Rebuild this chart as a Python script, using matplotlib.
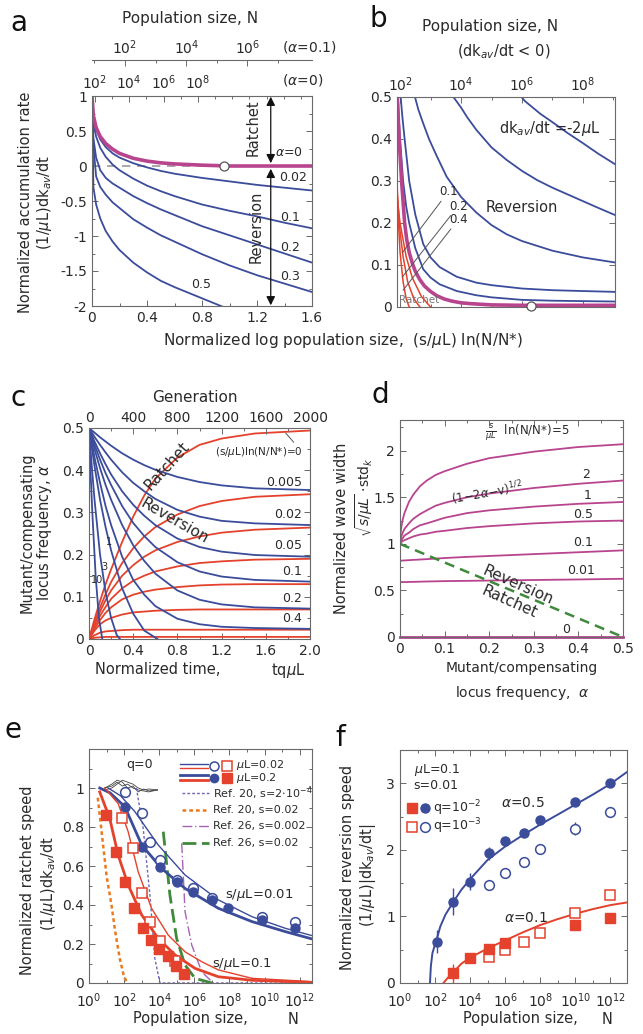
import numpy as np
import matplotlib
matplotlib.use('Agg')
import matplotlib.pyplot as plt
from matplotlib.ticker import MultipleLocator, FixedLocator

plt.rcParams['font.family'] = ['DejaVu Sans']
plt.rcParams['mathtext.fontset'] = 'dejavusans'

BLUE = '#3b4c9b'; RED = '#e4422c'; MAG = '#b8448e'; TXT = '#2a2a2a'; SPN = '#6a6a6a'
ORANGE = '#ea7a1e'; PURP = '#7064b4'; PURP2 = '#a862b8'; GREEN = '#3f8a3a'

# ---------------- panel a data ----------------
a_x = [0, 0.01, 0.03, 0.06, 0.1, 0.15, 0.2, 0.3, 0.4, 0.5, 0.6, 0.8, 1.0, 1.2, 1.4, 1.6]
a_rate_alpha0 = [1.0, 0.72, 0.55, 0.42, 0.32, 0.24, 0.18, 0.11, 0.07, 0.045, 0.03, 0.012, 0.0, 0.0, 0.0, 0.0]
a_rate_002 = [1.0, 0.70, 0.52, 0.38, 0.27, 0.18, 0.12, 0.04, -0.02, -0.07, -0.11, -0.17, -0.22, -0.27, -0.31, -0.35]
a_rate_01 = [1.0, 0.62, 0.42, 0.26, 0.13, 0.02, -0.06, -0.18, -0.28, -0.36, -0.43, -0.55, -0.64, -0.72, -0.81, -0.89]
a_rate_02 = [1.0, 0.40, 0.12, -0.06, -0.17, -0.25, -0.31, -0.43, -0.53, -0.62, -0.70, -0.86, -0.99, -1.12, -1.25, -1.38]
a_rate_03 = [1.0, 0.30, -0.15, -0.30, -0.41, -0.52, -0.60, -0.76, -0.88, -0.99, -1.08, -1.26, -1.42, -1.56, -1.68, -1.80]
a_rate_05 = [1.0, -0.30, -0.55, -0.75, -0.93, -1.08, -1.20, -1.38, -1.52, -1.64, -1.73, -1.89, -2.05, -2.2, -2.35, -2.5]
a_zero_point = (0.96, 0.0)
a_top_alpha0_pos = [0.02, 0.27, 0.52, 0.77]
a_top_alpha01_pos = [0.24, 0.685, 1.13]
a_top_labels_0 = ['$10^2$', '$10^4$', '$10^6$', '$10^8$']
a_top_labels_01 = ['$10^2$', '$10^4$', '$10^6$']

# ---------------- panel b data (x = log10 N, y = alpha) ----------------
b_blue1_x = [5.98, 6.1, 6.3, 6.6, 7.0, 7.5, 8.0, 8.5, 9.05]
b_blue1_y = [0.5, 0.49, 0.478, 0.46, 0.44, 0.414, 0.39, 0.365, 0.34]
b_blue2_x = [3.75, 3.85, 4.0, 4.2, 4.5, 5.0, 5.5, 6.0, 6.5, 7.0, 7.5, 8.0, 8.5, 9.05]
b_blue2_y = [0.5, 0.49, 0.475, 0.452, 0.422, 0.38, 0.35, 0.324, 0.302, 0.284, 0.268, 0.252, 0.236, 0.219]
b_blue3_x = [2.49, 2.6, 2.76, 2.95, 3.2, 3.53, 4.0, 4.5, 5.0, 5.5, 6.0, 7.0, 8.0, 9.05]
b_blue3_y = [0.5, 0.47, 0.437, 0.4, 0.36, 0.31, 0.262, 0.225, 0.195, 0.173, 0.157, 0.134, 0.118, 0.106]
b_blue4_x = [2.02, 2.08, 2.15, 2.3, 2.5, 2.76, 3.0, 3.3, 3.86, 4.5, 5.0, 6.0, 7.0, 8.0, 9.05]
b_blue4_y = [0.5, 0.45, 0.4, 0.3, 0.22, 0.15, 0.118, 0.095, 0.072, 0.058, 0.052, 0.044, 0.04, 0.038, 0.036]
b_blue5_x = [1.93, 1.96, 2.0, 2.1, 2.2, 2.3, 2.5, 2.76, 3.0, 3.3, 3.86, 4.5, 5.0, 6.0, 7.0, 8.0, 9.05]
b_blue5_y = [0.5, 0.45, 0.4, 0.3, 0.24, 0.2, 0.14, 0.09, 0.07, 0.054, 0.038, 0.028, 0.023, 0.017, 0.015, 0.014, 0.013]
b_zero_x = [1.91, 1.94, 1.97, 2.01, 2.05, 2.1, 2.15, 2.22, 2.3, 2.4, 2.5, 2.65, 2.8, 3.0, 3.2, 3.45, 3.7, 4.0, 4.3, 5.0, 6.0, 9.05]
b_zero_y = [0.5, 0.45, 0.4, 0.35, 0.3, 0.25, 0.2, 0.16, 0.13, 0.105, 0.085, 0.065, 0.05, 0.037, 0.027, 0.019, 0.014, 0.01, 0.008, 0.005, 0.004, 0.004]
b_red1_x = [1.9, 1.95, 2.0, 2.1, 2.2, 2.3]
b_red1_y = [0.3, 0.2, 0.13, 0.06, 0.02, 0.0]
b_red2_x = [1.9, 2.0, 2.1, 2.25, 2.45, 2.65]
b_red2_y = [0.28, 0.18, 0.12, 0.06, 0.02, 0.0]
b_red3_x = [1.9, 2.0, 2.2, 2.4, 2.7, 3.0]
b_red3_y = [0.26, 0.2, 0.12, 0.07, 0.025, 0.0]
b_zero_point = (6.3, 0.003)

# ---------------- panel c data ----------------
c_t = [0, 0.05, 0.1, 0.15, 0.2, 0.3, 0.4, 0.5, 0.6, 0.8, 1.0, 1.2, 1.5, 2.0]
c_labels = ['0.005', '0.02', '0.05', '0.1', '0.2', '0.4']
c_blue = [
    [0.5, 0.489, 0.478, 0.468, 0.458, 0.44, 0.425, 0.412, 0.401, 0.384, 0.372, 0.364, 0.357, 0.353],
    [0.5, 0.479, 0.46, 0.442, 0.425, 0.395, 0.37, 0.35, 0.332, 0.306, 0.29, 0.28, 0.274, 0.27],
    [0.5, 0.468, 0.44, 0.414, 0.39, 0.35, 0.318, 0.292, 0.27, 0.238, 0.218, 0.207, 0.199, 0.195],
    [0.5, 0.46, 0.425, 0.393, 0.365, 0.315, 0.275, 0.244, 0.218, 0.182, 0.16, 0.148, 0.14, 0.136],
    [0.5, 0.45, 0.405, 0.365, 0.33, 0.27, 0.222, 0.185, 0.155, 0.115, 0.093, 0.082, 0.075, 0.072],
    [0.5, 0.43, 0.37, 0.315, 0.27, 0.195, 0.14, 0.105, 0.078, 0.048, 0.035, 0.029, 0.026, 0.024],
]
c_blue1_t = [0, 0.05, 0.1, 0.15, 0.2, 0.3, 0.4, 0.5, 0.62]
c_blue1_y = [0.5, 0.41, 0.33, 0.265, 0.21, 0.12, 0.06, 0.02, 0.0]
c_blue3_t = [0, 0.025, 0.05, 0.1, 0.15, 0.2, 0.25, 0.28]
c_blue3_y = [0.5, 0.41, 0.33, 0.2, 0.11, 0.05, 0.01, 0.0]
c_blue10_t = [0, 0.015, 0.03, 0.06, 0.09, 0.12]
c_blue10_y = [0.5, 0.39, 0.3, 0.15, 0.05, 0.0]
c_red = [
    [0, 0.047, 0.09, 0.13, 0.165, 0.23, 0.29, 0.34, 0.38, 0.43, 0.46, 0.475, 0.487, 0.494],
    [0, 0.04, 0.075, 0.106, 0.135, 0.18, 0.215, 0.243, 0.265, 0.295, 0.315, 0.327, 0.337, 0.343],
    [0, 0.035, 0.065, 0.092, 0.115, 0.15, 0.175, 0.195, 0.21, 0.23, 0.243, 0.252, 0.259, 0.264],
    [0, 0.03, 0.055, 0.076, 0.095, 0.12, 0.138, 0.15, 0.16, 0.172, 0.18, 0.184, 0.188, 0.19],
    [0, 0.025, 0.045, 0.062, 0.075, 0.094, 0.105, 0.112, 0.117, 0.123, 0.127, 0.129, 0.13, 0.13],
    [0, 0.02, 0.035, 0.044, 0.05, 0.058, 0.063, 0.065, 0.067, 0.069, 0.07, 0.07, 0.07, 0.07],
    [0, 0.009, 0.015, 0.018, 0.019, 0.021, 0.022, 0.022, 0.022, 0.022, 0.022, 0.022, 0.022, 0.022],
    [0, 0.003, 0.004, 0.005, 0.005, 0.005, 0.005, 0.005, 0.005, 0.005, 0.005, 0.005, 0.005, 0.005],
]
c_label_y = [0.37, 0.294, 0.222, 0.159, 0.095, 0.048]

# ---------------- panel d data ----------------
d_x = [0, 0.001, 0.003, 0.006, 0.01, 0.02, 0.03, 0.045, 0.06, 0.08, 0.1, 0.15, 0.2, 0.3, 0.4, 0.5]
d_w5 = [1.0, 1.1, 1.18, 1.26, 1.33, 1.45, 1.53, 1.62, 1.68, 1.74, 1.78, 1.86, 1.92, 1.99, 2.04, 2.07]
d_w2 = [1.0, 1.04, 1.08, 1.12, 1.16, 1.22, 1.27, 1.32, 1.36, 1.41, 1.44, 1.5, 1.54, 1.6, 1.645, 1.68]
d_w1 = [1.0, 1.02, 1.04, 1.06, 1.09, 1.12, 1.16, 1.2, 1.22, 1.25, 1.28, 1.33, 1.36, 1.4, 1.43, 1.45]
d_w05 = [1.0, 1.01, 1.02, 1.03, 1.04, 1.06, 1.08, 1.1, 1.11, 1.13, 1.14, 1.17, 1.19, 1.22, 1.24, 1.25]
d_w01 = [0.82, 0.82, 0.82, 0.821, 0.822, 0.825, 0.828, 0.832, 0.836, 0.842, 0.848, 0.86, 0.87, 0.89, 0.91, 0.93]
d_w001 = [0.59, 0.59, 0.59, 0.59, 0.59, 0.591, 0.592, 0.594, 0.596, 0.598, 0.6, 0.603, 0.606, 0.612, 0.618, 0.625]
d_w0 = [0] * 16
d_border_x = [0, 0.5]
d_border_y = [1.0, 0.0]

# ---------------- panel e data (x = log10 N) ----------------
e_blue_thick_x = [0.61, 1.2, 2.04, 3.0, 4.13, 5.47, 7.37, 9.28, 11.2, 12.7]
e_blue_thick_y = [1.0, 0.975, 0.904, 0.708, 0.588, 0.485, 0.383, 0.315, 0.263, 0.226]
e_blue_thin_x = [1.09, 1.8, 2.6, 3.3, 3.94, 5.47, 7.37, 9.28, 11.2, 12.7]
e_blue_thin_y = [1.0, 0.96, 0.88, 0.79, 0.708, 0.554, 0.426, 0.34, 0.28, 0.243]
e_red_thick_x = [0.61, 1.18, 1.66, 2.23, 3.0, 3.94, 4.9, 6.04, 7.37, 9.28, 12.7]
e_red_thick_y = [0.98, 0.844, 0.656, 0.503, 0.349, 0.229, 0.144, 0.075, 0.032, 0.014, 0.003]
e_red_thin_x = [0.9, 1.66, 2.23, 2.8, 3.56, 4.51, 5.47, 6.42, 7.37, 9.28, 12.7]
e_red_thin_y = [1.0, 0.92, 0.776, 0.571, 0.383, 0.246, 0.16, 0.109, 0.067, 0.024, 0.007]
e_circ_open_x = [2.04, 3.0, 3.47, 4.04, 4.99, 5.94, 6.99, 9.85, 11.75]
e_circ_open_y = [0.98, 0.87, 0.725, 0.63, 0.528, 0.485, 0.434, 0.34, 0.315]
e_circ_fill_x = [2.04, 3.0, 4.04, 4.99, 5.94, 6.99, 7.94, 9.85, 11.75]
e_circ_fill_y = [0.904, 0.70, 0.597, 0.52, 0.468, 0.426, 0.386, 0.323, 0.284]
e_sq_open_x = [1.9, 2.48, 2.99, 3.5, 4.04, 4.9]
e_sq_open_y = [0.846, 0.692, 0.462, 0.313, 0.214, 0.111]
e_sq_fill_x = [0.99, 1.52, 2.04, 2.55, 3.05, 3.52, 4.0, 4.48, 4.93, 5.43]
e_sq_fill_y = [0.863, 0.67, 0.516, 0.385, 0.282, 0.222, 0.174, 0.137, 0.089, 0.048]
e_ref20a_x = [2.7, 3.09, 3.47, 3.75, 4.04, 12.7]
e_ref20a_y = [1.0, 0.79, 0.45, 0.126, 0.0, 0.0]
e_ref20b_x = [0.5, 0.8, 1.0, 1.28, 1.5, 1.75, 2.0, 2.2]
e_ref20b_y = [0.95, 0.71, 0.55, 0.4, 0.26, 0.126, 0.03, 0.0]
e_ref26a_x = [5.28, 5.47, 5.85, 6.42, 6.99]
e_ref26a_y = [0.716, 0.366, 0.195, 0.058, 0.007]
e_ref26b_x = [4.23, 4.61, 4.99, 5.47, 6.04, 6.99]
e_ref26b_y = [0.776, 0.45, 0.229, 0.092, 0.024, 0.0]
e_q0_x = [0.9, 1.3, 1.6, 1.9, 2.2, 2.5, 2.8, 3.1, 3.4, 3.9]
e_q0_runs = [
    [1.0, 1.01, 1.03, 1.01, 1.02, 1.0, 0.99, 0.985, 0.98, 0.99],
    [1.0, 1.02, 1.04, 1.03, 1.0, 1.01, 0.98, 0.995, 0.985, 0.99],
    [0.99, 1.0, 1.02, 1.04, 1.03, 1.02, 1.0, 0.99, 0.995, 0.99],
]

# ---------------- panel f data ----------------
f_blue_x = [1.71, 1.76, 1.85, 2.0, 2.1, 2.3, 2.6, 3.0, 3.5, 4.0, 5.0, 6.0, 7.0, 8.0, 9.0, 10.0, 11.0, 12.0, 12.95]
f_blue_y = [0, 0.25, 0.45, 0.58, 0.66, 0.85, 1.03, 1.2, 1.4, 1.56, 1.85, 2.05, 2.22, 2.38, 2.53, 2.68, 2.83, 2.99, 3.17]
f_red_x = [2.48, 2.7, 3.0, 3.5, 4.0, 5.0, 6.0, 7.0, 8.0, 9.0, 10.0, 11.0, 12.0, 12.95]
f_red_y = [0, 0.07, 0.15, 0.29, 0.38, 0.52, 0.64, 0.76, 0.87, 0.96, 1.04, 1.11, 1.17, 1.21]
f_circ_fill_x = [2.1, 3.05, 4.0, 5.05, 6.0, 7.05, 8.0, 10.0, 12.0]
f_circ_fill_y = [0.62, 1.22, 1.52, 1.95, 2.135, 2.26, 2.445, 2.72, 3.01]
f_circ_fill_err = [0.17, 0.2, 0.13, 0.1, 0.04, 0.04, 0.04, 0.05, 0.04]
f_circ_open_x = [5.05, 6.0, 7.05, 8.0, 10.0, 12.0]
f_circ_open_y = [1.47, 1.645, 1.82, 2.01, 2.32, 2.57]
f_circ_open_err = [0.03, 0.03, 0.03, 0.03, 0.1, 0.03]
f_sq_fill_x = [3.05, 4.0, 5.05, 6.0, 10.0, 12.0]
f_sq_fill_y = [0.145, 0.37, 0.505, 0.595, 0.87, 0.98]
f_sq_fill_err = [0.14, 0.04, 0.03, 0.03, 0.03, 0.03]
f_sq_open_x = [5.05, 6.0, 7.05, 8.0, 10.0, 12.0]
f_sq_open_y = [0.395, 0.495, 0.62, 0.745, 1.045, 1.32]

log_tick_pos = [0, 2, 4, 6, 8, 10, 12]
log_tick_lab = ['$10^{0}$', '$10^{2}$', '$10^{4}$', '$10^{6}$', '$10^{8}$', '$10^{10}$', '$10^{12}$']

# ===================== figure =====================
W, H = 643, 1034
fig = plt.figure(figsize=(W / 100, H / 100), dpi=100)


def add_ax(l, t, r, b):
    return fig.add_axes([l / W, 1 - b / H, (r - l) / W, (b - t) / H])


def style(ax, top=True, right=True, size=10):
    ax.tick_params(which='both', direction='in', top=top, right=right, color=SPN,
                   labelcolor=TXT, labelsize=size, width=0.7)
    ax.tick_params(which='major', length=4)
    ax.tick_params(which='minor', length=2.5)
    for s in ax.spines.values():
        s.set_color(SPN)
        s.set_linewidth(0.8)


def ftext(px, py, s, **kw):
    kw.setdefault('color', TXT)
    return fig.text(px / W, 1 - py / H, s, **kw)


# ---------------- panel a ----------------
axa = add_ax(92, 96, 312, 306)
axa.set_xlim(0, 1.6)
axa.set_ylim(-2, 1)
axa.plot([0, 0.95], [0, 0], color='#9a9a9a', lw=1.2, ls=(0, (5, 4)))
for ys in [a_rate_002, a_rate_01, a_rate_02, a_rate_03, a_rate_05]:
    axa.plot(a_x, ys, color=BLUE, lw=1.3)
axa.plot(a_x, a_rate_alpha0, color=MAG, lw=2.6, solid_capstyle='butt')
axa.plot(*a_zero_point, 'o', mfc='white', mec='#555', ms=6.5, mew=0.9)
arrow = dict(arrowstyle='<|-|>', color='#111', lw=0.9, mutation_scale=13, shrinkA=0, shrinkB=0)
axa.annotate('', xy=(1.3, 0.99), xytext=(1.3, 0.04), arrowprops=arrow)
axa.annotate('', xy=(1.3, -0.04), xytext=(1.3, -1.99), arrowprops=arrow)
axa.text(1.17, 0.55, 'Ratchet', rotation=90, ha='center', va='center', fontsize=10.5, color=TXT)
axa.text(1.19, -0.87, 'Reversion', rotation=90, ha='center', va='center', fontsize=10.5, color=TXT)
axa.text(1.33, 0.2, r'$\alpha$=0', fontsize=9, color=TXT, va='center')
axa.text(1.36, -0.16, '0.02', fontsize=9, color=TXT, va='center')
axa.text(1.37, -0.73, '0.1', fontsize=9, color=TXT, va='center')
axa.text(1.37, -1.17, '0.2', fontsize=9, color=TXT, va='center')
axa.text(1.37, -1.58, '0.3', fontsize=9, color=TXT, va='center')
axa.text(0.72, -1.70, '0.5', fontsize=9, color=TXT, va='center')
axa.set_xticks([0, 0.4, 0.8, 1.2, 1.6])
axa.set_xticklabels(['0', '0.4', '0.8', '1.2', '1.6'])
axa.xaxis.set_minor_locator(MultipleLocator(0.2))
axa.set_yticks([-2, -1.5, -1, -0.5, 0, 0.5, 1])
axa.set_yticklabels(['-2', '-1.5', '-1', '-0.5', '0', '0.5', '1'])
axa.yaxis.set_minor_locator(MultipleLocator(0.25))
ta = axa.twiny()
style(axa, top=False)
ta.set_xlim(0, 1.6)
ta.set_xticks(a_top_alpha0_pos)
ta.set_xticklabels(a_top_labels_0)
ta.xaxis.set_minor_locator(FixedLocator([0.145, 0.395, 0.645, 0.895, 1.02, 1.145, 1.27, 1.395, 1.52]))
style(ta, right=False)
ta.tick_params(axis='x', which='both', top=True, bottom=False, pad=3)
for s in ta.spines.values():
    s.set_visible(False)
tb = axa.twiny()
tb.set_xlim(0, 1.6)
tb.spines['top'].set_position(('outward', 26))
for k in ['bottom', 'left', 'right']:
    tb.spines[k].set_visible(False)
tb.set_xticks(a_top_alpha01_pos)
tb.set_xticklabels(a_top_labels_01)
tb.xaxis.set_minor_locator(FixedLocator([0.0175, 0.4625, 0.9075, 1.3525]))
style(tb, right=False)
tb.tick_params(axis='x', which='both', top=True, bottom=False, pad=2)
tb.spines['top'].set_color(SPN)
ftext(190, 18, 'Population size, N', fontsize=11, ha='center', va='center')
ftext(282, 47, r'($\alpha$=0.1)', fontsize=10, ha='left', va='center')
ftext(282, 80, r'($\alpha$=0)', fontsize=10, ha='left', va='center')
ftext(26, 202, 'Normalized accumulation rate', rotation=90, fontsize=10.5, ha='center', va='center')
ftext(45, 202, r'(1/$\mu$L)dk$_{av}$/dt', rotation=90, fontsize=10.5, ha='center', va='center')

# ---------------- panel b ----------------
axb = add_ax(397, 97, 615, 307)
axb.set_xlim(1.9, 9.05)
axb.set_ylim(0, 0.5)
for xs, ys in [(b_red1_x, b_red1_y), (b_red2_x, b_red2_y), (b_red3_x, b_red3_y)]:
    axb.plot(xs, ys, color=RED, lw=1.1)
for xs, ys in [(b_blue1_x, b_blue1_y), (b_blue2_x, b_blue2_y), (b_blue3_x, b_blue3_y),
               (b_blue4_x, b_blue4_y), (b_blue5_x, b_blue5_y)]:
    axb.plot(xs, ys, color=BLUE, lw=1.3)
axb.plot(b_zero_x, b_zero_y, color=MAG, lw=2.6)
axb.plot(*b_zero_point, 'o', mfc='white', mec='#555', ms=6.5, mew=0.9, clip_on=False, zorder=5)
lead = dict(arrowstyle='-', color='#555', lw=0.7, shrinkA=0, shrinkB=0)
axb.annotate('0.1', xy=(2.07, 0.129), xytext=(3.27, 0.274), fontsize=8.5, color=TXT, va='center', arrowprops=lead)
axb.annotate('0.2', xy=(2.07, 0.071), xytext=(3.6, 0.24), fontsize=8.5, color=TXT, va='center', arrowprops=lead)
axb.annotate('0.4', xy=(2.1, 0.04), xytext=(3.6, 0.208), fontsize=8.5, color=TXT, va='center', arrowprops=lead)
axb.text(6.0, 0.238, 'Reversion', fontsize=10.5, color=TXT, ha='center', va='center')
axb.text(6.9, 0.426, r'dk$_{av}$/dt =-2$\mu$L', fontsize=10.5, color=TXT, ha='center', va='center')
axb.text(1.97, 0.017, 'Ratchet', fontsize=7.5, color='#777', ha='left', va='center')
axb.set_yticks([0, 0.1, 0.2, 0.3, 0.4, 0.5])
axb.set_yticklabels(['0', '0.1', '0.2', '0.3', '0.4', '0.5'])
axb.set_xticks([2, 4, 6, 8])
axb.set_xticklabels(['$10^2$', '$10^4$', '$10^6$', '$10^8$'])
axb.xaxis.set_minor_locator(FixedLocator([3, 5, 7, 9]))
style(axb)
axb.tick_params(axis='x', labeltop=True, labelbottom=False, pad=2)
ftext(490, 26, 'Population size, N', fontsize=11, ha='center', va='center')
ftext(504, 52, r'(dk$_{av}$/dt < 0)', fontsize=10.5, ha='center', va='center')

ftext(343, 340, r'Normalized log population size,  (s/$\mu$L) ln(N/N*)', fontsize=11, ha='center', va='center')

# ---------------- panel c ----------------
axc = add_ax(89, 428, 310, 639)
axc.set_xlim(0, 2.0)
axc.set_ylim(0, 0.5)
for ys in c_red:
    axc.plot(c_t, ys, color=RED, lw=1.3)
for ys in c_blue:
    axc.plot(c_t, ys, color=BLUE, lw=1.3)
axc.plot(c_blue1_t, c_blue1_y, color=BLUE, lw=1.3)
axc.plot(c_blue3_t, c_blue3_y, color=BLUE, lw=1.3)
axc.plot(c_blue10_t, c_blue10_y, color=BLUE, lw=1.3)
for lab, yy in zip(c_labels, c_label_y):
    axc.text(1.93, yy, lab, fontsize=9, color=TXT, ha='right', va='center')
axc.annotate(r'(s/$\mu$L)ln(N/N*)=0', xy=(1.78, 0.488), xytext=(1.93, 0.443), fontsize=7.5,
             color=TXT, ha='right', va='center',
             arrowprops=dict(arrowstyle='-', color='#555', lw=0.7, shrinkA=0, shrinkB=0,
                             relpos=(0.93, 1.0)))
axc.text(0.71, 0.41, 'Ratchet', rotation=48, fontsize=11, color=TXT, ha='center', va='center')
axc.text(0.77, 0.28, 'Reversion', rotation=-30, fontsize=11, color=TXT, ha='center', va='center')
axc.text(0.18, 0.23, '1', fontsize=7, color=TXT, ha='center', va='center')
axc.text(0.14, 0.17, '3', fontsize=7, color=TXT, ha='center', va='center')
axc.text(0.075, 0.14, '10', fontsize=7, color=TXT, ha='center', va='center')
axc.set_xticks([0, 0.4, 0.8, 1.2, 1.6, 2.0])
axc.set_xticklabels(['0', '0.4', '0.8', '1.2', '1.6', '2.0'])
axc.xaxis.set_minor_locator(MultipleLocator(0.2))
axc.set_yticks([0, 0.1, 0.2, 0.3, 0.4, 0.5])
axc.set_yticklabels(['0', '0.1', '0.2', '0.3', '0.4', '0.5'])
axc.yaxis.set_minor_locator(MultipleLocator(0.05))
tc = axc.twiny()
style(axc, top=False)
tc.set_xlim(0, 2000)
tc.set_xticks([0, 400, 800, 1200, 1600, 2000])
tc.xaxis.set_minor_locator(MultipleLocator(200))
style(tc, right=False)
tc.tick_params(axis='x', which='both', top=True, bottom=False, pad=2)
for s in tc.spines.values():
    s.set_visible(False)
ftext(195, 397, 'Generation', fontsize=11, ha='center', va='center')
ftext(27, 533, 'Mutant/compensating', rotation=90, fontsize=10.5, ha='center', va='center')
ftext(45, 533, r'locus frequency, $\alpha$', rotation=90, fontsize=10.5, ha='center', va='center')
ftext(95, 670, r'Normalized time,', fontsize=10.5, ha='left', va='center')
ftext(305, 670, r'tq$\mu$L', fontsize=10.5, ha='right', va='center')

# ---------------- panel d ----------------
axd = add_ax(400, 420, 623, 637)
axd.set_xlim(0, 0.5)
axd.set_ylim(0, 2.33)
for ys in [d_w5, d_w2, d_w1, d_w05, d_w01, d_w001]:
    axd.plot(d_x, ys, color=MAG, lw=1.3)
axd.plot(d_x, d_w0, color=MAG, lw=2.0, clip_on=False)
axd.plot(d_border_x, d_border_y, color=GREEN, lw=1.8, ls=(0, (4, 2.5)))
axd.text(0.285, 2.2, r'$\frac{s}{\mu L}$  ln(N/N*)=5', fontsize=8.5, color=TXT, ha='center', va='center')
axd.text(0.417, 1.75, '2', fontsize=9, color=TXT, ha='center', va='center')
axd.text(0.42, 1.52, '1', fontsize=9, color=TXT, ha='center', va='center')
axd.text(0.41, 1.32, '0.5', fontsize=9, color=TXT, ha='center', va='center')
axd.text(0.41, 1.02, '0.1', fontsize=9, color=TXT, ha='center', va='center')
axd.text(0.405, 0.71, '0.01', fontsize=9, color=TXT, ha='center', va='center')
axd.text(0.372, 0.08, '0', fontsize=9, color=TXT, ha='center', va='center')
axd.text(0.195, 1.55, r'(1$-$2$\alpha$$-$v)$^{1/2}$', fontsize=8.5, color=TXT, ha='center', va='center', rotation=10)
axd.text(0.265, 0.56, 'Reversion', fontsize=11, color=TXT, ha='center', va='center', rotation=-24)
axd.text(0.245, 0.38, 'Ratchet', fontsize=11, color=TXT, ha='center', va='center', rotation=-24)
axd.set_xticks([0, 0.1, 0.2, 0.3, 0.4, 0.5])
axd.set_xticklabels(['0', '0.1', '0.2', '0.3', '0.4', '0.5'])
axd.xaxis.set_minor_locator(MultipleLocator(0.05))
axd.set_yticks([0, 0.5, 1, 1.5, 2])
axd.set_yticklabels(['0', '0.5', '1', '1.5', '2'])
axd.yaxis.set_minor_locator(MultipleLocator(0.25))
style(axd)
ftext(342, 528, 'Normalized wave width', rotation=90, fontsize=10.5, ha='center', va='center')
ftext(364, 497, r'$\sqrt{s/\mu L}$ $\cdot$std$_k$', rotation=90, fontsize=10, ha='center', va='center')
ftext(522, 668, 'Mutant/compensating', fontsize=10, ha='center', va='center')
ftext(522, 693, r'locus frequency,  $\alpha$', fontsize=10, ha='center', va='center')

# ---------------- panel e ----------------
axe = add_ax(89, 749, 312, 983)
axe.set_xlim(0, 12.7)
axe.set_ylim(0, 1.2)
for ys in e_q0_runs:
    axe.plot(e_q0_x, ys, color='#444', lw=0.6)
axe.plot(e_ref20a_x, e_ref20a_y, color=PURP, lw=1.0, ls=(0, (2, 1.5)))
axe.plot(e_ref20b_x, e_ref20b_y, color=ORANGE, lw=1.8, ls=(0, (1.5, 1.2)))
axe.plot(e_ref26a_x, e_ref26a_y, color=PURP2, lw=1.0, ls=(0, (7, 2, 1, 2)))
axe.plot(e_ref26b_x, e_ref26b_y, color=GREEN, lw=2.0, ls=(0, (5, 2)))
axe.plot(e_blue_thin_x, e_blue_thin_y, color=BLUE, lw=1.0)
axe.plot(e_blue_thick_x, e_blue_thick_y, color=BLUE, lw=2.0)
axe.plot(e_red_thin_x, e_red_thin_y, color=RED, lw=1.0)
axe.plot(e_red_thick_x, e_red_thick_y, color=RED, lw=2.0)
axe.plot(e_circ_open_x, e_circ_open_y, 'o', mfc='white', mec=BLUE, ms=7, mew=1.1)
axe.plot(e_circ_fill_x, e_circ_fill_y, 'o', mfc=BLUE, mec=BLUE, ms=6.5)
axe.plot(e_sq_open_x, e_sq_open_y, 's', mfc='white', mec=RED, ms=7.5, mew=1.1)
axe.plot(e_sq_fill_x, e_sq_fill_y, 's', mfc=RED, mec=RED, ms=7.5)
# legend (axes fraction layout)
T = axe.transAxes
axe.text(0.228, 0.933, 'q=0', transform=T, fontsize=9, color=TXT, ha='center', va='center')
axe.plot([0.408, 0.535], [0.937, 0.937], color=BLUE, lw=1.0, transform=T)
axe.plot([0.408, 0.535], [0.918, 0.918], color=RED, lw=1.0, transform=T)
axe.plot([0.408, 0.535], [0.887, 0.887], color=BLUE, lw=2.0, transform=T)
axe.plot([0.408, 0.535], [0.867, 0.867], color=RED, lw=2.0, transform=T)
axe.plot([0.562], [0.928], 'o', mfc='white', mec=BLUE, ms=6.5, mew=1.1, transform=T)
axe.plot([0.618], [0.928], 's', mfc='white', mec=RED, ms=7, mew=1.1, transform=T)
axe.plot([0.562], [0.877], 'o', mfc=BLUE, mec=BLUE, ms=6, transform=T)
axe.plot([0.618], [0.877], 's', mfc=RED, mec=RED, ms=7, transform=T)
axe.text(0.66, 0.93, r'$\mu$L=0.02', transform=T, fontsize=8, color=TXT, va='center')
axe.text(0.66, 0.875, r'$\mu$L=0.2', transform=T, fontsize=8, color=TXT, va='center')
axe.plot([0.415, 0.54], [0.812, 0.812], color=PURP, lw=1.0, ls=(0, (2, 1.5)), transform=T)
axe.plot([0.415, 0.54], [0.741, 0.741], color=ORANGE, lw=1.8, ls=(0, (1.5, 1.2)), transform=T)
axe.plot([0.415, 0.54], [0.669, 0.669], color=PURP2, lw=1.0, ls=(0, (7, 2, 1, 2)), transform=T)
axe.plot([0.415, 0.54], [0.598, 0.598], color=GREEN, lw=2.0, ls=(0, (5, 2)), transform=T)
axe.text(0.555, 0.812, r'Ref. 20, s=2$\cdot$10$^{-4}$', transform=T, fontsize=8, color=TXT, va='center')
axe.text(0.555, 0.741, 'Ref. 20, s=0.02', transform=T, fontsize=8, color=TXT, va='center')
axe.text(0.555, 0.669, 'Ref. 26, s=0.002', transform=T, fontsize=8, color=TXT, va='center')
axe.text(0.555, 0.598, 'Ref. 26, s=0.02', transform=T, fontsize=8, color=TXT, va='center')
axe.text(9.7, 0.45, r's/$\mu$L=0.01', fontsize=9.5, color=TXT, ha='center', va='center')
axe.text(8.7, 0.10, r's/$\mu$L=0.1', fontsize=9.5, color=TXT, ha='center', va='center')
axe.set_xticks(log_tick_pos)
axe.set_xticklabels(log_tick_lab)
axe.xaxis.set_minor_locator(MultipleLocator(1))
axe.set_yticks([0, 0.2, 0.4, 0.6, 0.8, 1.0])
axe.set_yticklabels(['0', '0.2', '0.4', '0.6', '0.8', '1'])
axe.yaxis.set_minor_locator(MultipleLocator(0.1))
style(axe)
axe.tick_params(axis='x', pad=6)
ftext(28, 880, 'Normalized ratchet speed', rotation=90, fontsize=10.5, ha='center', va='center')
ftext(48, 883, r'(1/$\mu$L)dk$_{av}$/dt', rotation=90, fontsize=10.5, ha='center', va='center')
ftext(133, 1019, 'Population size,', fontsize=10.5, ha='left', va='center')
ftext(293, 1019, 'N', fontsize=10.5, ha='center', va='center')

# ---------------- panel f ----------------
axf = add_ax(400, 750, 627, 983)
axf.set_xlim(0, 12.95)
axf.set_ylim(0, 3.5)
axf.plot(f_blue_x, f_blue_y, color=BLUE, lw=1.4)
axf.plot(f_red_x, f_red_y, color=RED, lw=1.4)
axf.errorbar(f_circ_fill_x, f_circ_fill_y, yerr=f_circ_fill_err, fmt='o', color=BLUE, mfc=BLUE, mec=BLUE, ms=6.5, elinewidth=1.0, capsize=0)
axf.errorbar(f_circ_open_x, f_circ_open_y, yerr=f_circ_open_err, fmt='o', color=BLUE, mfc='white', mec=BLUE, ms=7, mew=1.1, elinewidth=1.0, capsize=0)
axf.errorbar(f_sq_fill_x, f_sq_fill_y, yerr=f_sq_fill_err, fmt='s', color=RED, mfc=RED, mec=RED, ms=7.5, elinewidth=1.0, capsize=0)
axf.plot(f_sq_open_x, f_sq_open_y, 's', mfc='white', mec=RED, ms=7.5, mew=1.1)
T = axf.transAxes
axf.text(0.06, 0.914, r'$\mu$L=0.1', transform=T, fontsize=9, color=TXT, va='center')
axf.text(0.06, 0.846, 's=0.01', transform=T, fontsize=9, color=TXT, va='center')
axf.plot([0.052], [0.749], 's', mfc=RED, mec=RED, ms=7, transform=T)
axf.plot([0.11], [0.749], 'o', mfc=BLUE, mec=BLUE, ms=6.5, transform=T)
axf.plot([0.052], [0.671], 's', mfc='white', mec=RED, ms=7, mew=1.1, transform=T)
axf.plot([0.11], [0.671], 'o', mfc='white', mec=BLUE, ms=7, mew=1.1, transform=T)
axf.text(0.145, 0.749, r'q=10$^{-2}$', transform=T, fontsize=9, color=TXT, va='center')
axf.text(0.145, 0.671, r'q=10$^{-3}$', transform=T, fontsize=9, color=TXT, va='center')
axf.text(7.0, 2.7, r'$\alpha$=0.5', fontsize=10, color=TXT, ha='center', va='center')
axf.text(7.2, 0.975, r'$\alpha$=0.1', fontsize=10, color=TXT, ha='center', va='center')
axf.set_xticks(log_tick_pos)
axf.set_xticklabels(log_tick_lab)
axf.xaxis.set_minor_locator(MultipleLocator(1))
axf.set_yticks([0, 1, 2, 3])
axf.set_yticklabels(['0', '1', '2', '3'])
axf.yaxis.set_minor_locator(MultipleLocator(0.5))
style(axf)
axf.tick_params(axis='x', pad=6)
ftext(347, 867, 'Normalized reversion speed', rotation=90, fontsize=10.5, ha='center', va='center')
ftext(368, 875, r'(1/$\mu$L)|dk$_{av}$/dt|', rotation=90, fontsize=10.5, ha='center', va='center')
ftext(463, 1019, 'Population size,', fontsize=10.5, ha='left', va='center')
ftext(607, 1019, 'N', fontsize=10.5, ha='center', va='center')

# panel letters
for lab, px, py in [('a', 19, 23), ('b', 378, 19), ('c', 18, 398), ('d', 380, 395), ('e', 13, 730), ('f', 340, 738)]:
    ftext(px, py, lab, fontsize=20, ha='center', va='center', color='#111')

fig.savefig('out.png', dpi=100)
